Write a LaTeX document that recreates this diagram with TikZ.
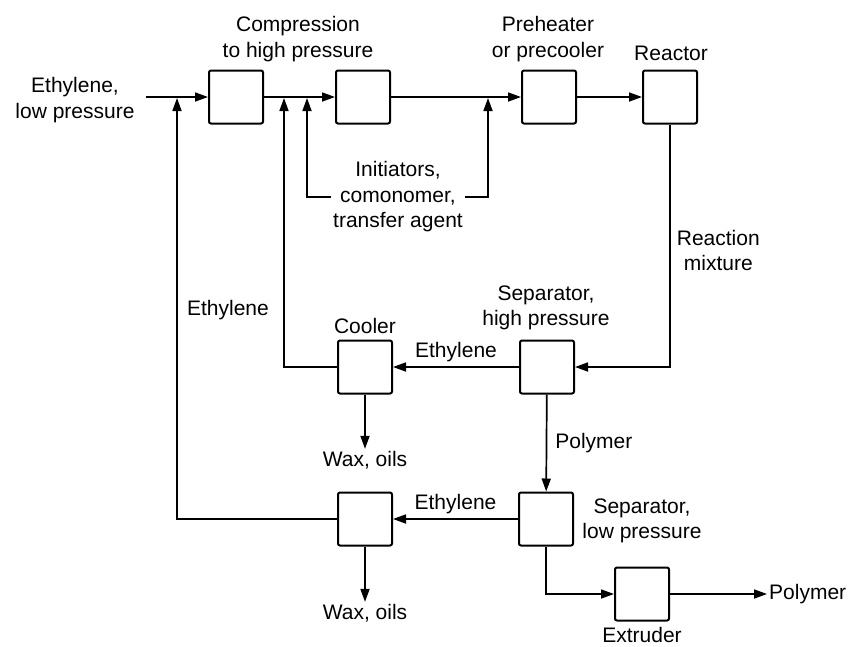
\documentclass[tikz,border=0pt]{standalone}
\usepackage{fontspec}
\setmainfont{Liberation Sans}
\usetikzlibrary{arrows.meta,positioning}

\begin{document}
\begin{tikzpicture}[x=1pt,y=-1pt,font=\fontsize{21}{25.5}\selectfont,
  >={Triangle[length=13pt,width=9pt]},
  box/.style={draw,line width=2pt,rounded corners=2pt,minimum width=54pt,minimum height=53pt,inner sep=0pt},
  flow/.style={line width=1.7pt},
  lbl/.style={align=center,inner sep=2pt}]
\useasboundingbox (0,0) rectangle (851,646);
% units
\node[box] (comp1) at (236,97) {};
\node[box] (comp2) at (363,97) {};
\node[box] (pre) at (549,97) {};
\node[box] (reac) at (670,97) {};
\node[box] (cool) at (365,367) {};
\node[box] (hps) at (547,367) {};
\node[box] (wax) at (365,519) {};
\node[box] (lps) at (546,519) {};
\node[box] (extr) at (642,594) {};
% labels
\node[lbl] (feed) at (75,100) {Ethylene,\\low pressure};
\node[lbl] at (298,39) {Compression\\to high pressure};
\node[lbl] at (548,39) {Preheater\\or precooler};
\node[lbl] at (671,53) {Reactor};
\node[lbl] (init) at (398,197) {Initiators,\\comonomer,\\transfer agent};
\node[lbl] at (228,310) {Ethylene};
\node[lbl] at (365,326) {Cooler};
\node[lbl] at (546,308) {Separator,\\high pressure};
\node[lbl] at (642,521) {Separator,\\low pressure};
\node[lbl,inner sep=0pt] at (642,635) {Extruder};
\node[lbl] (waxA) at (365,460) {Wax, oils};
\node[lbl] (waxB) at (365,613) {Wax, oils};
\node[lbl,anchor=west] (polyout) at (767,594) {Polymer};
% junctions on the main line
\coordinate (j0) at (177,98);
\coordinate (j1) at (284,98);
\coordinate (j2) at (307,98);
\coordinate (j3) at (488,98);
% main line
\draw[flow,->] ([xshift=9pt]feed.east |- comp1.west) -- (comp1.west);
\draw[flow,->] (comp1) -- (comp2);
\draw[flow,->] (comp2) -- (pre);
\draw[flow,->] (pre) -- (reac);
\draw[flow,->] (init.west) -| (j2);
\draw[flow,->] (init.east) -| (j3);
\draw[flow,->] (reac.south) |- node[pos=0.26,right,lbl,xshift=4pt]{Reaction\\mixture} (hps.east);
\draw[flow,->] (hps) -- node[above,lbl,yshift=2pt]{Ethylene} (cool);
\draw[flow,->] (cool.west) -| (j1);
\draw[flow,->] (cool.south) -- (cool.south |- waxA.north);
\draw[flow,->] (hps) -- node[right,lbl,xshift=6pt]{Polymer} (lps);
\draw[flow,->] (lps) -- node[above,lbl,yshift=2pt]{Ethylene} (wax);
\draw[flow,->] (wax.west) -| (j0);
\draw[flow,->] (wax.south) -- (wax.south |- waxB.north);
\draw[flow,->] (lps.south) |- (extr.west);
\draw[flow,->] (extr) -- (polyout);
\end{tikzpicture}
\end{document}
